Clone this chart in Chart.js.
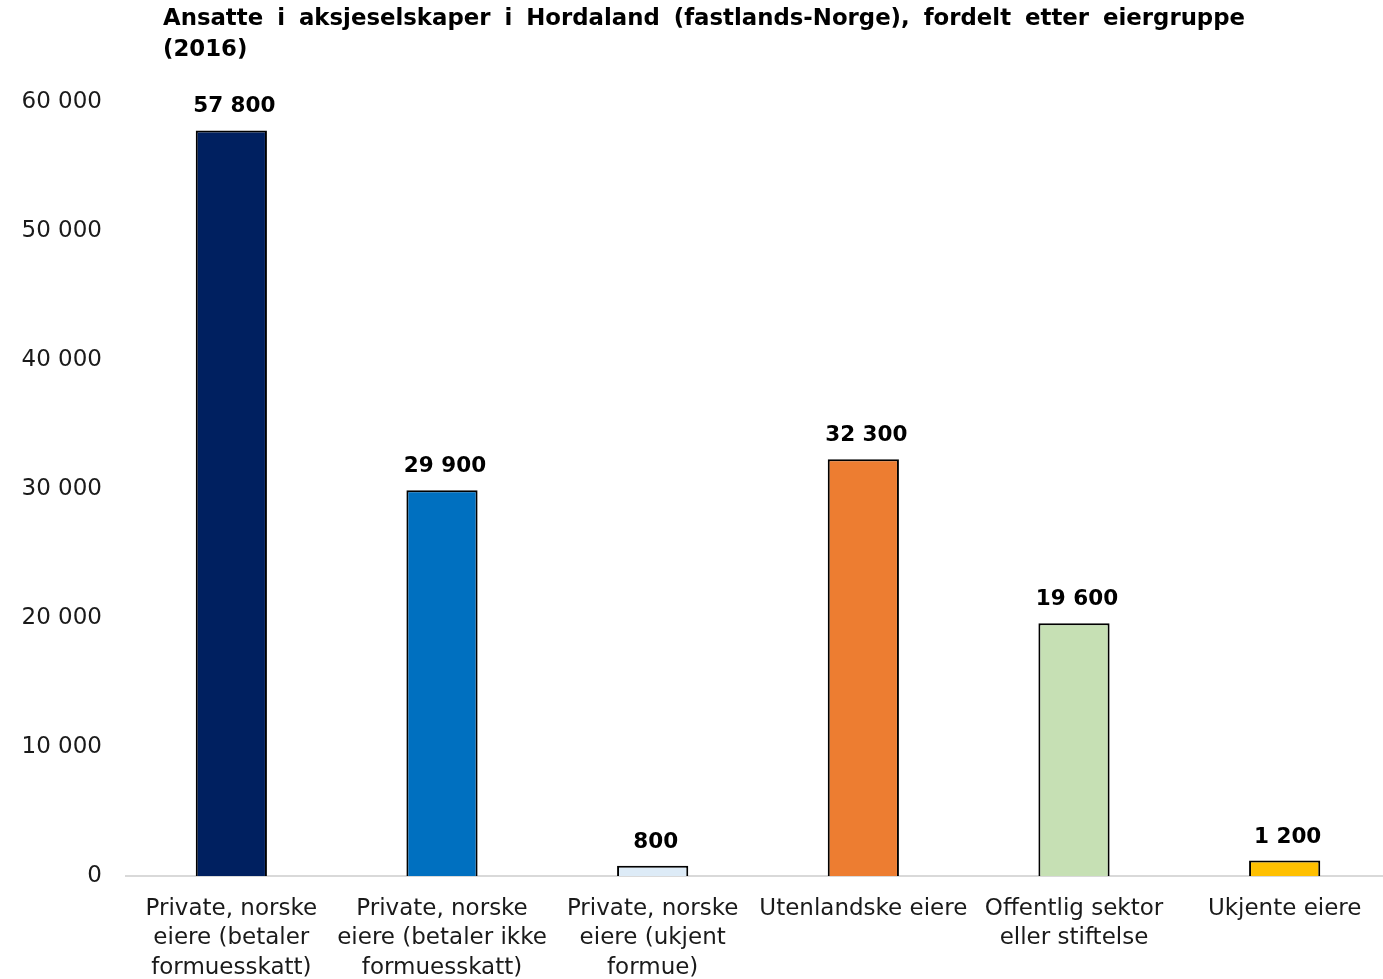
<!DOCTYPE html>
<html>
<head>
<meta charset="utf-8">
<script src="https://cdn.jsdelivr.net/npm/chart.js@4"></script>
<style>
  html, body { margin: 0; padding: 0; background: #fff; overflow: hidden; }
  #wrap { position: relative; width: 1383px; height: 979px; overflow: hidden; }
  #c { display: block; }
</style>
</head>
<body>
<div id="wrap"><canvas id="c" width="1390" height="979"></canvas></div>
<script>
const titleLines = ["Ansatte i aksjeselskaper i Hordaland (fastlands-Norge), fordelt etter eiergruppe", "(2016)"];
const categories = [
  ["Private, norske", "eiere (betaler", "formuesskatt)"],
  ["Private, norske", "eiere (betaler ikke", "formuesskatt)"],
  ["Private, norske", "eiere (ukjent", "formue)"],
  ["Utenlandske eiere"],
  ["Offentlig sektor", "eller stiftelse"],
  ["Ukjente eiere"]
];
const values = [57800, 29900, 800, 32300, 19600, 1200];
const barColors = ["#002060", "#0070C0", "#DDEBF7", "#ED7D31", "#C6E0B4", "#FFC000"];
const yTicks = [0, 10000, 20000, 30000, 40000, 50000, 60000];

function fmt(v) {
  return String(Math.round(v)).replace(/\B(?=(\d{3})+(?!\d))/g, " ");
}

const titlePlugin = {
  id: "justTitle",
  afterDraw(chart) {
    const ctx = chart.ctx;
    ctx.save();
    ctx.font = "bold 23px 'DejaVu Sans', sans-serif";
    ctx.fillStyle = "#000";
    ctx.textBaseline = "middle";
    const left = 163, right = 1245;
    const avail = right - left;
    const words = titleLines[0].split(" ");
    const widths = words.map(w => ctx.measureText(w).width);
    const total = widths.reduce((a, b) => a + b, 0);
    const minGap = 14;
    let sx = 1;
    if (total + minGap * (words.length - 1) > avail) {
      sx = (avail - minGap * (words.length - 1)) / total;
    }
    const gap = (avail - total * sx) / (words.length - 1);
    let x = left;
    words.forEach((w, i) => {
      ctx.save();
      ctx.translate(x, 19);
      ctx.scale(sx, 1);
      ctx.fillText(w, 0, 0);
      ctx.restore();
      x += widths[i] * sx + gap;
    });
    ctx.save();
    ctx.translate(left, 50);
    ctx.scale(sx, 1);
    ctx.fillText(titleLines[1], 0, 0);
    ctx.restore();
    ctx.restore();
  }
};

const labelPlugin = {
  id: "valueLabels",
  afterDatasetsDraw(chart) {
    const ctx = chart.ctx;
    const meta = chart.getDatasetMeta(0);
    ctx.save();
    ctx.font = "bold 21.5px 'DejaVu Sans', sans-serif";
    ctx.fillStyle = "#000";
    ctx.textAlign = "center";
    ctx.textBaseline = "alphabetic";
    meta.data.forEach((bar, i) => {
      ctx.fillText(fmt(values[i]), bar.x + 3, bar.y - 18);
    });
    ctx.restore();
  }
};

new Chart(document.getElementById("c"), {
  type: "bar",
  data: {
    labels: categories,
    datasets: [{
      data: values,
      backgroundColor: barColors,
      borderColor: "#000",
      borderWidth: 2,
      categoryPercentage: 1,
      barPercentage: 0.338
    }]
  },
  options: {
    responsive: false,
    animation: false,
    layout: { padding: { top: 102, right: 0, bottom: 0, left: 0 } },
    plugins: {
      legend: { display: false },
      title: { display: false },
      tooltip: { enabled: false }
    },
    scales: {
      x: {
        grid: { display: false },
        border: { display: true, color: "#d9d9d9", width: 2 },
        ticks: {
          color: "#1a1a1a",
          font: { family: "'DejaVu Sans', sans-serif", size: 23, lineHeight: 1.28 },
          padding: 10,
          maxRotation: 0,
          autoSkip: false
        },
        afterFit(scale) { scale.height = 103; }
      },
      y: {
        min: 0,
        max: 60000,
        afterBuildTicks(scale) { scale.ticks = yTicks.map(v => ({ value: v })); },
        grid: { display: false },
        border: { display: false },
        ticks: {
          color: "#1a1a1a",
          font: { family: "'DejaVu Sans', sans-serif", size: 23 },
          padding: 16,
          callback: v => fmt(v)
        },
        afterFit(scale) { scale.width = 126; }
      }
    }
  },
  plugins: [titlePlugin, labelPlugin]
});
</script>
</body>
</html>
